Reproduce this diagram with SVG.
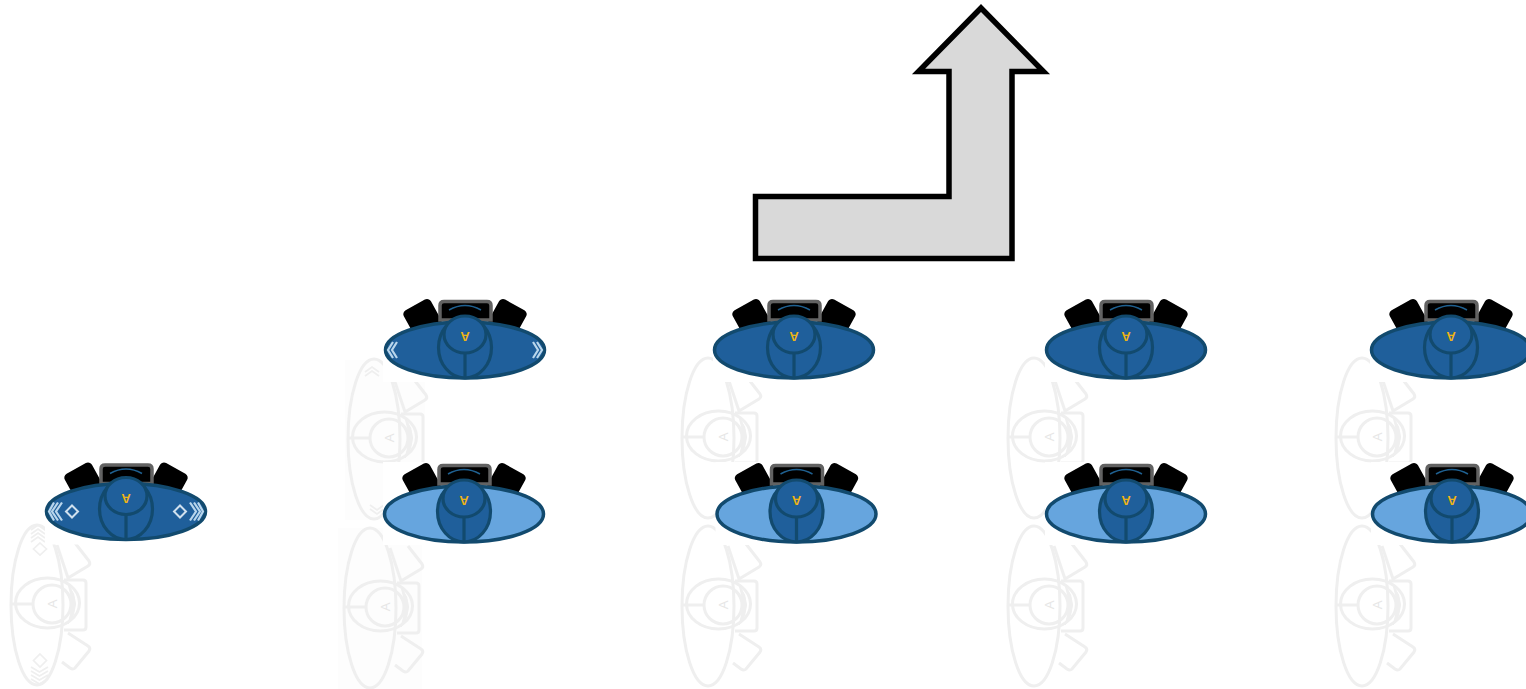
<svg xmlns="http://www.w3.org/2000/svg" width="1526" height="689" viewBox="0 0 1526 689">
<style>
.a{font-family:"Liberation Sans",Arial,sans-serif;font-size:13px;font-weight:bold;text-anchor:middle;fill:#f0b414}
.ga{font-family:"Liberation Sans",Arial,sans-serif;font-size:13px;text-anchor:middle;fill:#e6e6e6}
.gl{fill:none;stroke:#efefef;stroke-width:3}
.gs{fill:none;stroke:#efefef;stroke-width:1.7}
.ln{fill:#1f5f9b;stroke:#124a6e;stroke-width:3.2}
.ll{fill:none;stroke:#124a6e;stroke-width:3.2}
.bg{fill:#fff}
.cv{fill:none;stroke:#b9d6ec;stroke-width:2.2}
.dm{fill:none;stroke:#cfe0ee;stroke-width:2}
</style>
<defs>
<g id="ghost">
<ellipse class="gl" rx="26" ry="80"/>
<ellipse class="gl" cx="10.500" cy="-2" rx="32" ry="25"/>
<circle class="gl" cx="15" cy="-1" r="19"/>
<path d="M31-21Q46-1 31 19Q38-1 31-21Z" fill="#efefef" stroke="#efefef" stroke-width="1"/>
<path class="gl" d="M-25-1H-4"/>
<path class="gl" d="M27-25H46Q49-25 49-22V22Q49 25 46 25H27"/>
<path class="gl" d="M20-60L31-27L51-39Q54-41 52-44L38-62M31 28L51 41Q54 43 52 46L38 63Q36 65 33 63L25 57"/>
</g>
<g id="seat">
<rect x="-58" y="-45" width="31" height="30" rx="4.500" transform="rotate(-29 -42.500 -30)" fill="#000"/>
<rect x="27" y="-45" width="31" height="30" rx="4.500" transform="rotate(29 42.500 -30)" fill="#000"/>
<path d="M-25-28V-42.500Q-25-46.500-21-46.500H22Q26-46.500 26-42.500V-28Z" fill="#000" stroke="#626262" stroke-width="3.500"/>
<path d="M-16-38Q0-47 16-38" fill="none" stroke="#1f6090" stroke-width="1.500"/>
</g>
<g id="darkbase">
<ellipse rx="79.500" ry="28" fill="#1f5f9b" stroke="#124a6e" stroke-width="3.500"/>
<ellipse class="ln" cy="-2.500" rx="26.500" ry="30.500"/>
<ellipse class="ln" cy="-15.500" rx="21" ry="18.500"/>
<path class="ll" d="M0 4V28"/>
</g>
<g id="lightbase">
<ellipse rx="79.500" ry="28" fill="#66a5de" stroke="#124a6e" stroke-width="3.500"/>
<ellipse class="ln" cy="-2.500" rx="26.500" ry="30.500"/>
<ellipse class="ln" cy="-15.500" rx="21" ry="18.500"/>
<path class="ll" d="M0 4V28"/>
</g>
</defs>

<g id="ghosts">
<rect x="345" y="360" width="80" height="160" fill="#fdfdfd"/>
<rect x="338" y="528" width="84" height="161" fill="#fdfdfd"/>
<g id="g1"><use href="#ghost" x="37" y="605"/><text class="ga" transform="translate(52 604) rotate(-90)" y="4.500">A</text>
<path class="gs" d="M31 530L38 525L45 530M31 534L38 529L45 534M31 538L38 533L45 538M31 542L38 537L45 542"/>
<path class="gs" d="M40 543L46.500 549L40 555L33.500 549Z"/>
<path class="gs" d="M40 654L46.500 660.500L40 667L33.500 660.500Z"/>
<path class="gs" d="M31 667L39.500 672L48 667M31 671L39.500 676L48 671M31 675L39.500 680L48 675M31 679L39.500 684L48 679"/>
</g>
<g id="g2"><use href="#ghost" x="374" y="439"/><text class="ga" transform="translate(389 438) rotate(-90)" y="4.500">A</text>
<path class="gs" d="M365 372L372 367L379 372M365 376L372 371L379 376"/>
<path class="gs" d="M370 505L377 510L384 505M370 509L377 514L384 509"/>
</g>
<g id="g3"><use href="#ghost" x="370" y="608"/><text class="ga" transform="translate(385 607) rotate(-90)" y="4.500">A</text></g>
<g id="g4"><use href="#ghost" x="708" y="438"/><text class="ga" transform="translate(723 437) rotate(-90)" y="4.500">A</text></g>
<g id="g5"><use href="#ghost" x="708" y="606"/><text class="ga" transform="translate(723 605) rotate(-90)" y="4.500">A</text></g>
<g id="g6"><use href="#ghost" x="1034" y="438"/><text class="ga" transform="translate(1049 437) rotate(-90)" y="4.500">A</text></g>
<g id="g7"><use href="#ghost" x="1034" y="606"/><text class="ga" transform="translate(1049 605) rotate(-90)" y="4.500">A</text></g>
<g id="g8"><use href="#ghost" x="1362" y="438"/><text class="ga" transform="translate(1377 437) rotate(-90)" y="4.500">A</text></g>
<g id="g9"><use href="#ghost" x="1362" y="606"/><text class="ga" transform="translate(1377 605) rotate(-90)" y="4.500">A</text></g>
</g>

<g id="figures">
<g id="f1" transform="translate(126 511.500)">
<rect class="bg" x="-81" y="-53" width="162" height="86"/>
<use href="#seat"/><use href="#darkbase"/>
<path class="cv" d="M-64-9L-70 0L-64 9M-68-9L-74 0L-68 9M-72-9L-77 0L-72 9M64-9L70 0L64 9M68-9L74 0L68 9M72-9L77 0L72 9"/>
<path class="dm" d="M-54-6L-48 0L-54 6L-60 0ZM54-6L60 0L54 6L48 0Z"/>
<text class="a" transform="translate(0 -13.500) rotate(180)" y="4.500">A</text>
</g>
<g id="f2" transform="translate(465 350)">
<rect class="bg" x="-82" y="-53" width="162" height="85"/>
<use href="#seat" y="-2"/><use href="#darkbase"/>
<path class="cv" d="M-68-8L-73 0L-68 8M-72-8L-77 0L-72 8M68-8L73 0L68 8M72-8L77 0L72 8"/>
<text class="a" transform="translate(0 -14) rotate(180)" y="4.500">A</text>
</g>
<g id="f3" transform="translate(794 350)">
<rect class="bg" x="-81" y="-53" width="162" height="85"/>
<use href="#seat" y="-2"/><use href="#darkbase"/>
<text class="a" transform="translate(0 -14) rotate(180)" y="4.500">A</text>
</g>
<g id="f4" transform="translate(1126 350)">
<rect class="bg" x="-81" y="-53" width="162" height="85"/>
<use href="#seat" y="-2"/><use href="#darkbase"/>
<text class="a" transform="translate(0 -14) rotate(180)" y="4.500">A</text>
</g>
<g id="f5" transform="translate(1451 350)">
<rect class="bg" x="-81" y="-53" width="162" height="85"/>
<use href="#seat" y="-2"/><use href="#darkbase"/>
<text class="a" transform="translate(0 -14) rotate(180)" y="4.500">A</text>
</g>
<g id="f6" transform="translate(464 514)">
<rect class="bg" x="-81" y="-52" width="162" height="83"/>
<use href="#seat" y="-2"/><use href="#lightbase"/>
<text class="a" transform="translate(0 -14) rotate(180)" y="4.500">A</text>
</g>
<g id="f7" transform="translate(796.500 514)">
<rect class="bg" x="-81" y="-52" width="162" height="83"/>
<use href="#seat" y="-2"/><use href="#lightbase"/>
<text class="a" transform="translate(0 -14) rotate(180)" y="4.500">A</text>
</g>
<g id="f8" transform="translate(1126 514)">
<rect class="bg" x="-81" y="-52" width="162" height="83"/>
<use href="#seat" y="-2"/><use href="#lightbase"/>
<text class="a" transform="translate(0 -14) rotate(180)" y="4.500">A</text>
</g>
<g id="f9" transform="translate(1452 514)">
<rect class="bg" x="-81" y="-52" width="162" height="83"/>
<use href="#seat" y="-2"/><use href="#lightbase"/>
<text class="a" transform="translate(0 -14) rotate(180)" y="4.500">A</text>
</g>
</g>
<g id="arrow"><path d="M755.500 196.500H949V71.500H918.500L981 8L1043.500 71.500H1012V258.500H755.500Z" fill="#d9d9d9" stroke="#000" stroke-width="5.500"/></g>
</svg>
